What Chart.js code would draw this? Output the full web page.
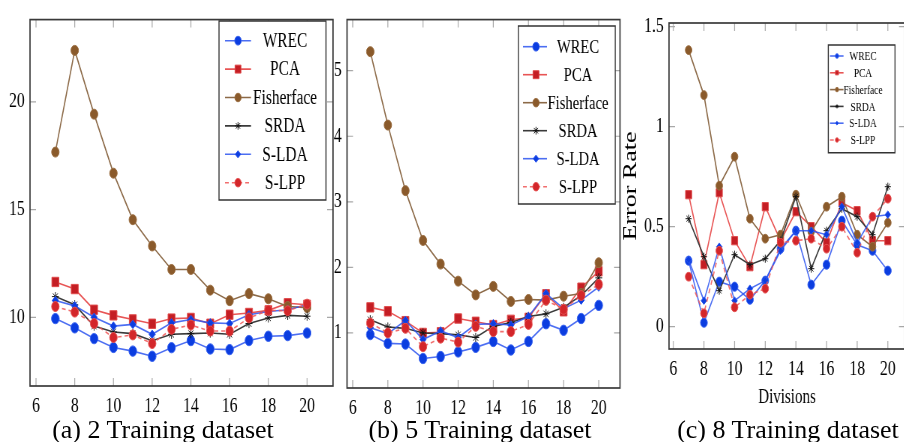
<!DOCTYPE html>
<html><head><meta charset="utf-8">
<script src="https://cdn.jsdelivr.net/npm/chart.js@4.4.1/dist/chart.umd.min.js"></script>
<style>
html,body{margin:0;padding:0;background:#fff;width:904px;height:442px;overflow:hidden;position:relative}
canvas{position:absolute;top:0;transform-origin:0 0;transform:scaleX(0.75)}
.cap{position:absolute;top:415px;font-family:"Liberation Serif","Times New Roman",serif;font-size:26px;line-height:30px;white-space:nowrap;transform:translateX(-50%);color:#000}
</style></head><body>
<canvas id="ca" width="453" height="420"></canvas>
<canvas id="cb" width="403" height="420"></canvas>
<canvas id="cc" width="390" height="420"></canvas>
<div class="cap" style="left:163px">(a) 2 Training dataset</div>
<div class="cap" style="left:480px">(b) 5 Training dataset</div>
<div class="cap" style="left:788px">(c) 8 Training dataset</div>
<script>
// ---------- data ----------
const divisions = [7,8,9,10,11,12,13,14,15,16,17,18,19,20];
const seriesNames = ['WREC','PCA','Fisherface','SRDA','S-LDA','S-LPP'];
const xTicks = [6,8,10,12,14,16,18,20];

// (a) 2 Training dataset
const yTicksA = [10,15,20];
const wrecA   = [9.94,9.51,9.01,8.60,8.43,8.19,8.59,8.92,8.53,8.50,8.92,9.12,9.15,9.27];
const pcaA    = [11.64,11.31,10.35,10.09,9.90,9.70,9.94,9.97,9.70,10.12,10.20,10.32,10.65,10.58];
const fisherA = [17.67,22.39,19.43,16.69,14.53,13.31,12.22,12.22,11.26,10.77,11.10,10.86,10.50,10.45];
const srdaA   = [10.96,10.58,9.59,9.32,9.24,8.91,9.21,9.24,9.27,9.21,9.71,9.97,10.09,10.05];
const sldaA   = [10.78,10.53,10.00,9.59,9.67,9.21,9.74,9.90,9.74,9.71,10.12,10.27,10.35,10.58];
const slppA   = [10.50,10.24,9.71,9.06,9.18,8.78,9.44,9.64,9.36,9.36,9.97,10.32,10.30,10.61];

// (b) 5 Training dataset
const yTicksB = [1,2,3,4,5];
const wrecB   = [0.975,0.84,0.83,0.61,0.64,0.71,0.78,0.87,0.74,0.87,1.14,1.04,1.22,1.42];
const pcaB    = [1.39,1.33,1.18,1.00,1.01,1.22,1.17,1.12,1.20,1.23,1.59,1.33,1.69,1.94];
const fisherB = [5.29,4.17,3.17,2.41,2.05,1.79,1.58,1.71,1.48,1.51,1.50,1.56,1.60,2.07];
const srdaB   = [1.20,1.09,1.07,1.00,0.99,0.97,0.93,1.10,1.16,1.25,1.29,1.39,1.57,1.84];
const sldaB   = [1.08,0.99,1.19,0.90,1.03,0.93,1.13,1.14,1.12,1.25,1.60,1.37,1.50,1.70];
const slppB   = [1.15,1.00,1.07,0.79,0.92,0.86,1.10,1.02,1.02,1.13,1.50,1.36,1.57,1.74];

// (c) 8 Training dataset
const yTicksC = [0,0.5,1,1.5];
const wrecC   = [0.33,0.02,0.225,0.20,0.135,0.23,0.39,0.48,0.21,0.31,0.53,0.41,0.38,0.28];
const pcaC    = [0.66,0.31,0.67,0.43,0.30,0.60,0.43,0.575,0.50,0.42,0.62,0.58,0.43,0.43];
const fisherC = [1.383,1.158,0.705,0.85,0.54,0.44,0.46,0.66,0.475,0.60,0.65,0.46,0.40,0.52];
const srdaC   = [0.54,0.35,0.18,0.36,0.31,0.34,0.43,0.65,0.29,0.48,0.59,0.55,0.46,0.70];
const sldaC   = [0.335,0.13,0.40,0.13,0.19,0.23,0.38,0.48,0.48,0.46,0.60,0.42,0.55,0.56];
const slppC   = [0.25,0.067,0.38,0.097,0.16,0.19,0.42,0.43,0.44,0.39,0.50,0.37,0.55,0.64];

// ---------- styling / layout ----------
const SX = 0.75;
const FONT = "'Liberation Serif','Times New Roman',serif";
const styles = [
  {borderColor:'rgba(45,85,240,0.85)', pointBackgroundColor:'#0b3de0', pointBorderColor:'#3a64f0', pointStyle:'circle', pointRadius:5.2},
  {borderColor:'rgba(228,55,55,0.85)', pointBackgroundColor:'#c41e24', pointBorderColor:'#e04a4a', pointStyle:'rect', pointRadius:6.6},
  {borderColor:'#8c6a48', pointBackgroundColor:'#8a5a2b', pointBorderColor:'#9a6d40', pointStyle:'circle', pointRadius:5},
  {borderColor:'#3a3a3a', pointBackgroundColor:'#111', pointBorderColor:'#111', pointStyle:'star', pointRadius:4.6},
  {borderColor:'rgba(45,85,240,0.85)', pointBackgroundColor:'#0d3ee0', pointBorderColor:'#2a55ee', pointStyle:'rectRot', pointRadius:4.3},
  {borderColor:'rgba(238,85,85,0.85)', pointBackgroundColor:'#d3262a', pointBorderColor:'#e65050', pointStyle:'circle', pointRadius:5, borderDash:[5,4]}
];

function fallbackPoint(ctx, st, r, x, y){
  ctx.beginPath();
  if (st==='rect'){ const s=r*Math.SQRT1_2; ctx.rect(x-s,y-s,2*s,2*s); ctx.fill(); ctx.stroke(); }
  else if (st==='rectRot'){ ctx.moveTo(x-r,y);ctx.lineTo(x,y-r);ctx.lineTo(x+r,y);ctx.lineTo(x,y+r);ctx.closePath();ctx.fill();ctx.stroke(); }
  else if (st==='star'){ for(let k=0;k<4;k++){const a=k*Math.PI/4;ctx.moveTo(x-Math.cos(a)*r,y-Math.sin(a)*r);ctx.lineTo(x+Math.cos(a)*r,y+Math.sin(a)*r);} ctx.stroke(); }
  else { ctx.arc(x,y,r,0,Math.PI*2); ctx.fill(); ctx.stroke(); }
}

const panelPlugin = {
  id:'panel',
  beforeDatasetsDraw(chart, args, o){
    const {ctx, chartArea:a, scales:{x, y}} = chart;
    ctx.save();
    ctx.strokeStyle='#a8a8a8'; ctx.lineWidth=1.2;
    ctx.beginPath();
    o.xTicks.forEach(v=>{ const p=x.getPixelForValue(v); ctx.moveTo(p,a.bottom); ctx.lineTo(p,a.bottom-8); ctx.moveTo(p,a.top); ctx.lineTo(p,a.top+8); });
    o.yTicks.forEach(v=>{ const p=y.getPixelForValue(v); ctx.moveTo(a.left,p); ctx.lineTo(a.left+8,p); ctx.moveTo(a.right,p); ctx.lineTo(a.right-8,p); });
    ctx.stroke();
    ctx.restore();
  },
  afterDatasetsDraw(chart, args, o){
    const {ctx, chartArea:a} = chart;
    ctx.save();
    ctx.strokeStyle='#3a3a3a'; ctx.lineWidth=1.7;
    ctx.strokeRect(a.left, a.top, a.right-a.left, a.bottom-a.top);
    // legend
    const L = o.legend;
    const px = v => (v - o.pageLeft)/SX;
    ctx.fillStyle='#fff'; ctx.strokeStyle='#333'; ctx.lineWidth=1.4;
    ctx.beginPath(); ctx.rect(px(L.box[0]), L.box[1], px(L.box[2])-px(L.box[0]), L.box[3]-L.box[1]); ctx.fill(); ctx.stroke();
    chart.data.datasets.forEach((ds,i)=>{
      const yy = L.row0 + i*L.step;
      ctx.save();
      ctx.setLineDash(ds.borderDash||[]); ctx.strokeStyle=ds.borderColor; ctx.lineWidth=ds.borderWidth;
      ctx.beginPath(); ctx.moveTo(px(L.line[0]), yy); ctx.lineTo(px(L.line[1]), yy); ctx.stroke();
      ctx.setLineDash([]);
      ctx.fillStyle=ds.pointBackgroundColor; ctx.strokeStyle=ds.pointBorderColor; ctx.lineWidth=1;
      const r = ds.pointRadius*L.mk;
      if (Chart.helpers && Chart.helpers.drawPoint) {
        Chart.helpers.drawPoint(ctx, {pointStyle:ds.pointStyle, radius:r, rotation:0, borderWidth:1}, px(L.mx), yy);
      } else fallbackPoint(ctx, ds.pointStyle, r, px(L.mx), yy);
      ctx.restore();
      ctx.fillStyle='#000'; ctx.font = L.font+'px '+FONT; ctx.textAlign='center'; ctx.textBaseline='middle';
      ctx.fillText(ds.label, px(L.tx), yy+1);
    });
    ctx.restore();
  }
};

function makePanel(id, p){
  const series = p.series;
  const datasets = seriesNames.map((name,i)=>Object.assign({
    label:name,
    data: divisions.map((d,k)=>({x:d, y:series[i][k]})),
    borderWidth:1.6, pointBorderWidth:1,
    pointRadius: styles[i].pointRadius*p.mk,
    order: 6-i
  }, styles[i], {pointRadius: styles[i].pointRadius*p.mk}));
  const cw = document.getElementById(id).width, ch = document.getElementById(id).height;
  new Chart(document.getElementById(id), {
    type:'line',
    data:{datasets},
    plugins:[panelPlugin],
    options:{
      responsive:false, animation:false, devicePixelRatio:1,
      layout:{autoPadding:false, padding:{left:0, top:p.area.t, right: cw - (p.area.r - p.pageLeft)/SX, bottom:0}},
      plugins:{legend:{display:false}, tooltip:{enabled:false},
        panel:{xTicks:xTicks, yTicks:p.yTicks, pageLeft:p.pageLeft, legend:p.legend}},
      scales:{
        x:{type:'linear', min:p.x[0], max:p.x[1],
          grid:{display:false, drawTicks:false}, border:{display:false},
          afterBuildTicks: s => { s.ticks = xTicks.map(v=>({value:v})); },
          afterFit: s => { s.height = ch - p.area.b; },
          ticks:{padding:p.xPad, color:'#000', font:{family:FONT, size:p.tick}, callback:v=>String(v), maxRotation:0, autoSkip:false},
          title: p.xTitle ? {display:true, text:p.xTitle, color:'#000', font:{family:FONT, size:20}, padding:{top:0,bottom:10}} : {display:false}
        },
        y:{type:'linear', min:p.y[0], max:p.y[1],
          grid:{display:false, drawTicks:false}, border:{display:false},
          afterBuildTicks: s => { s.ticks = p.yTicks.map(v=>({value:v})); },
          afterFit: s => { s.width = (p.area.l - p.pageLeft)/SX; },
          ticks:{padding:7, color:'#000', font:{family:FONT, size:p.tick}, callback:v=>String(v), autoSkip:false},
          title: p.yTitle ? {display:true, text:p.yTitle, color:'#000', font:{family:FONT, size:26}, padding:{top:6,bottom:0}} : {display:false}
        }
      }
    }
  });
}

makePanel('ca', {
  pageLeft:0, area:{l:30, t:13, r:333, b:386}, x:[5.69,21.34], y:[6.81,23.82], yTicks:yTicksA,
  series:[wrecA,pcaA,fisherA,srdaA,sldaA,slppA], mk:1, tick:21, xPad:8,
  legend:{box:[219,21,326,200], row0:40.7, step:28.4, line:[225,251], mx:238, tx:285, font:20.5, mk:0.85}
});
makePanel('cb', {
  pageLeft:322, area:{l:347, t:18, r:620, b:388}, x:[5.676,21.21], y:[0.16,5.779], yTicks:yTicksB,
  series:[wrecB,pcaB,fisherB,srdaB,sldaB,slppB], mk:1, tick:21, xPad:8,
  legend:{box:[518.3,26,615.3,204], row0:46.7, step:28, line:[523,547], mx:536, tx:578, font:19.5, mk:0.85}
});
makePanel('cc', {
  pageLeft:615, area:{l:669, t:23, r:905, b:349}, x:[5.72,21.12], y:[-0.1115,1.5185], yTicks:yTicksC,
  series:[wrecC,pcaC,fisherC,srdaC,sldaC,slppC], mk:0.88, tick:21, xPad:8,
  xTitle:'Divisions', yTitle:'Error Rate',
  legend:{box:[828.3,45,895,152.7], row0:56, step:16.8, line:[830,843.5], mx:837, tx:863, font:12.5, mk:0.5}
});
document.getElementById('cb').style.left='322px';
document.getElementById('cc').style.left='615px';
document.getElementById('ca').style.left='0px';
</script>
</body></html>
